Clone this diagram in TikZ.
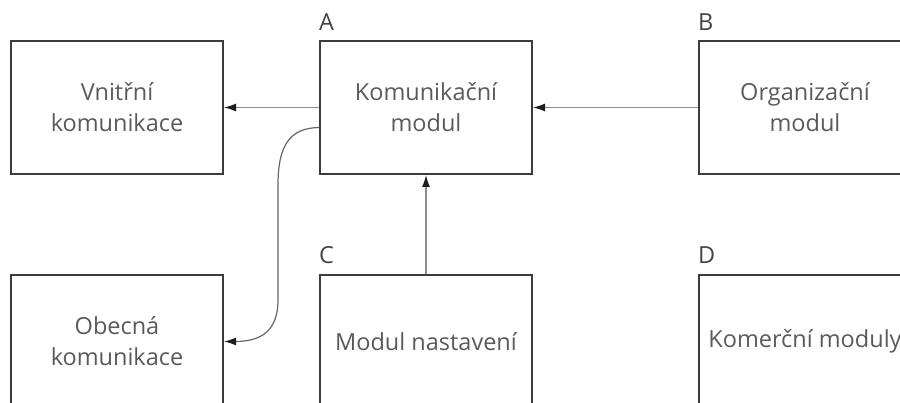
\documentclass[tikz,border=0pt]{standalone}
\usepackage{fontspec}
\setmainfont{Open Sans}
\usetikzlibrary{arrows.meta}
\definecolor{boxline}{HTML}{3C3C3C}
\definecolor{boxtext}{HTML}{5A5A5A}
\definecolor{tagtext}{HTML}{444444}
\definecolor{linkline}{HTML}{8E8E8E}
\definecolor{curveline}{HTML}{666666}
\definecolor{tipfill}{HTML}{1E1E1E}
\tikzset{
  module/.style={draw=boxline, line width=2pt, minimum width=212pt, minimum height=133pt,
    inner sep=0pt, align=center, text=boxtext,
    font=\fontsize{23.5}{31}\selectfont},
  tag/.style={anchor=base west, inner sep=0pt, text=tagtext,
    font=\fontsize{23.5}{28}\selectfont},
  link/.style={draw=linkline, line width=1.2pt,
    -{Latex[length=12pt,width=8pt,color=tipfill]}},
}
\begin{document}
\begin{tikzpicture}[x=1pt,y=-1pt]
  \clip (0,0) rectangle (900,403);
  \fill[white] (0,0) rectangle (900,403);

  % top row
  \node[module] (vnitrni) at (117,107.5) {Vnitřní\\komunikace};
  \node[module] (A) at (426,107.5) {Komunikační\\modul};
  \node[module] (B) at (805,107.5) {Organizační\\modul};
  % bottom row
  \node[module] (obecna) at (117,341.5) {Obecná\\komunikace};
  \node[module] (C) at (426,341.5) {Modul nastavení};
  \node[module] (D) at (805,341.5) {Komerční moduly};

  % letters over the modules
  \node[tag] (tA) at ([yshift=9pt]A.north west) {A};
  \node[tag] (tB) at ([yshift=9pt]B.north west) {B};
  \node[tag] (tC) at ([yshift=10pt]C.north west) {C};
  \node[tag] (tD) at ([yshift=10pt]D.north west) {D};

  % connectors
  \draw[link] (A.west) -- (vnitrni.east);
  \draw[link] (B.west) -- (A.east);
  \draw[link] (C.north) -- (A.south);
  \draw[link, draw=curveline] ([yshift=-20pt]A.west)
      .. controls (290,128) and (278,145) .. (278,185)
      -- (278,300)
      .. controls (278,330) and (262,341.5) .. (obecna.east);
\end{tikzpicture}
\end{document}
